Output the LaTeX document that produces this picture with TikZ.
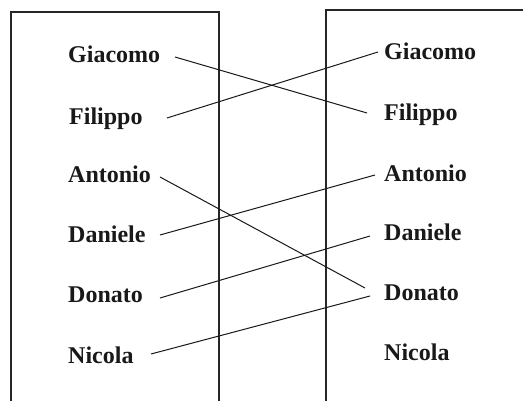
\documentclass[tikz,border=0pt]{standalone}
\usepackage{fontspec}
\setmainfont{Liberation Serif}
\begin{document}
\begin{tikzpicture}[x=1pt,y=-1pt,
  lbl/.style={anchor=base west,inner sep=0pt,font=\fontsize{24}{24}\selectfont\bfseries,text=black!90},
  boxline/.style={line width=1.3pt,draw=black!85},
  link/.style={line width=1pt,draw=black!90}]
\useasboundingbox (0,0) rectangle (523,401);
\fill[white] (0,0) rectangle (523,401);
% boxes
\draw[boxline] (11,401) -- (11,12) -- (219,12) -- (219,401);
\draw[boxline] (326,401) -- (326,10) -- (523,10);
% left labels
\node[lbl] (lg) at (68,63) {Giacomo};
\node[lbl] (lf) at (69,125) {Filippo};
\node[lbl] (la) at (68,183) {Antonio};
\node[lbl] (ld) at (68,243) {Daniele};
\node[lbl] (ldo) at (68,302) {Donato};
\node[lbl] (ln) at (68,363) {Nicola};
% right labels
\node[lbl] (rg) at (384,60) {Giacomo};
\node[lbl] (rf) at (384,121) {Filippo};
\node[lbl] (ra) at (384,182) {Antonio};
\node[lbl] (rd) at (384,241) {Daniele};
\node[lbl] (rdo) at (384,301) {Donato};
\node[lbl] (rn) at (384,361) {Nicola};
% connector endpoints
\coordinate (lgE) at (175,57);
\coordinate (lfE) at (167,118);
\coordinate (laE) at (160,177);
\coordinate (ldE) at (160,235);
\coordinate (ldoE) at (160,298);
\coordinate (lnE) at (151,354);
\coordinate (rgW) at (378,52);
\coordinate (rfW) at (367,113);
\coordinate (raW) at (375,175);
\coordinate (rdW) at (370,236);
\coordinate (rdoW) at (365,288);
\coordinate (rdoW2) at (370,296);
% connectors
\draw[link] (lgE) -- (rfW);
\draw[link] (lfE) -- (rgW);
\draw[link] (laE) -- (rdoW);
\draw[link] (ldE) -- (raW);
\draw[link] (ldoE) -- (rdW);
\draw[link] (lnE) -- (rdoW2);
\end{tikzpicture}
\end{document}
